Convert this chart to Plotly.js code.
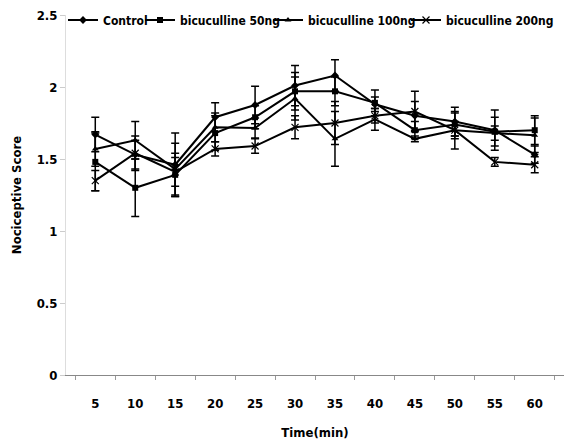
<!DOCTYPE html>
<html>
<head>
<meta charset="utf-8">
<script src="https://cdn.plot.ly/plotly-3.0.1.min.js"></script>
<style>html,body{margin:0;padding:0;background:#fff;}#chart{width:574px;height:448px;}</style>
</head>
<body>
<div id="chart"></div>
<script>
var times = ['5','10','15','20','25','30','35','40','45','50','55','60'];
var control    = [1.67,1.53,1.46,1.79,1.875,2.01,2.08,1.88,1.80,1.76,1.70,1.53];
var controlErr = [0.12,0.10,0.22,0.10,0.13,0.14,0.11,0.05,0.10,0.10,0.14,0.06];
var bic50      = [1.48,1.30,1.39,1.68,1.79,1.97,1.97,1.89,1.70,1.74,1.69,1.70];
var bic50Err   = [0.20,0.20,0.15,0.12,0.08,0.13,0.10,0.09,0.06,0.08,0.10,0.10];
var bic100     = [1.57,1.63,1.43,1.72,1.715,1.92,1.64,1.775,1.64,1.70,1.68,1.665];
var bic100Err  = [0.12,0.13,0.18,0.10,0.07,0.15,0.19,0.075,0.02,0.13,0.05,0.12];
var bic200     = [1.35,1.54,1.41,1.57,1.59,1.72,1.75,1.80,1.83,1.70,1.48,1.46];
var bic200Err  = [0.07,0.12,0.10,0.05,0.05,0.08,0.15,0.05,0.14,0.06,0.03,0.055];
var seriesNames = ['Control','bicuculline 50ng','bicuculline 100ng','bicuculline 200ng'];

var FONT = '"DejaVu Sans Condensed", "DejaVu Sans", sans-serif';
var symbols = ['diamond','square','triangle-up','x-thin'];
var ys = [control, bic50, bic100, bic200];
var errs = [controlErr, bic50Err, bic100Err, bic200Err];
var legendIds = ['legend','legend2','legend3','legend4'];

var traces = ys.map(function(y, i){
  return {
    type:'scatter', mode:'lines+markers', name: seriesNames[i], legend: legendIds[i],
    x: times, y: y,
    line:{color:'#000', width:2},
    marker:{symbol: symbols[i], size: i===3 ? 7 : 6, color:'#000', line:{color:'#000', width: i===3 ? 1.2 : 0}},
    error_y:{type:'data', array: errs[i], visible:true, color:'#000', thickness:1.5, width:4}
  };
});

var plotL = 66, plotW = 498, plotT = 15, plotH = 360;
// text start pixel positions of the legend entries
var textStarts = [105, 182, 310, 448];
var legendRowY = 20;
function legendAt(px){
  return {orientation:'h', x:(px - 42 - plotL)/plotW, y:(plotT + plotH - legendRowY)/plotH,
          xanchor:'left', yanchor:'middle',
          font:{family:FONT, size:12, weight:'bold', color:'#000'},
          itemwidth:30, bgcolor:'rgba(0,0,0,0)', borderwidth:0};
}

var layout = {
  width:574, height:448,
  margin:{l:plotL, r:574 - plotL - plotW, t:plotT, b:448 - plotT - plotH, autoexpand:false},
  paper_bgcolor:'#fff', plot_bgcolor:'#fff',
  font:{family:FONT, size:12, color:'#000', weight:'bold'},
  showlegend:true,
  legend: legendAt(textStarts[0]),
  legend2: legendAt(textStarts[1]),
  legend3: legendAt(textStarts[2]),
  legend4: legendAt(textStarts[3]),
  xaxis:{type:'category', tickson:'boundaries', ticks:'outside', ticklen:4, tickcolor:'#999',
         showline:true, linecolor:'#888', linewidth:1, showgrid:false, zeroline:false,
         ticklabelstandoff:16,
         tickfont:{family:FONT, size:13, weight:'bold'},
         title:{text:'Time(min)', font:{family:FONT, size:13, weight:'bold'}, standoff:18}},
  yaxis:{range:[0,2.5], dtick:0.5, ticks:'outside', ticklen:5, tickcolor:'#ccc',
         showline:true, linecolor:'#ddd', linewidth:1, showgrid:false, zeroline:false,
         tickfont:{family:FONT, size:13, weight:'bold'},
         title:{text:'Nociceptive Score', font:{family:FONT, size:13, weight:'bold'}, standoff:12}}
};

Plotly.newPlot('chart', traces, layout, {displayModeBar:false, staticPlot:true});
</script>
</body>
</html>
